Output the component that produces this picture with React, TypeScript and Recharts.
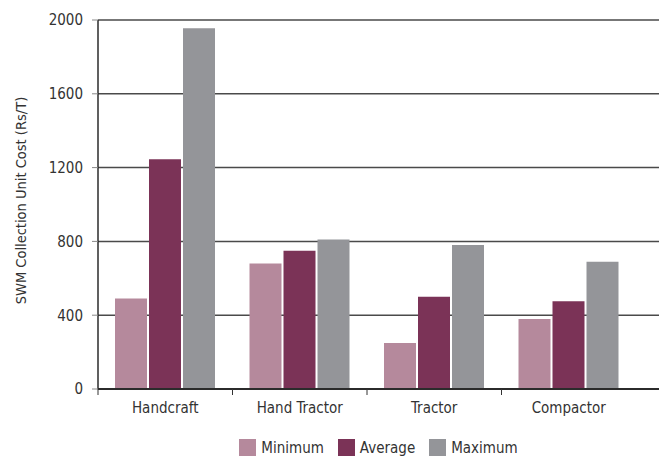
import React from "react";
import { BarChart, Bar, XAxis, YAxis, CartesianGrid, Legend, Label } from "recharts";

const categories = ["Handcraft", "Hand Tractor", "Tractor", "Compactor"];
const minimumValues = [490, 680, 250, 380];
const averageValues = [1245, 750, 500, 475];
const maximumValues = [1955, 810, 780, 690];
const yTicks = [0, 400, 800, 1200, 1600, 2000];
const seriesNames = ["Minimum", "Average", "Maximum"];
const seriesColors = ["#b5899c", "#7b3357", "#949599"];

const data = categories.map((c, i) => ({
  name: c,
  Minimum: minimumValues[i],
  Average: averageValues[i],
  Maximum: maximumValues[i],
}));

const FONT = "'Liberation Sans Narrow', 'DejaVu Sans Condensed', 'Roboto', sans-serif";
const TEXT = "#333333";
const HALF_BAND = 67.25;

if (typeof document !== "undefined") {
  document.body.style.margin = "0";
}

const XTick = (props: any) => {
  const { x, y, payload } = props;
  return (
    <g>
      <line x1={x - HALF_BAND} y1={y - 8} x2={x - HALF_BAND} y2={y - 2} stroke="#333" strokeWidth={1} />
      <text x={x} y={y + 16} textAnchor="middle" fill={TEXT} fontFamily={FONT} fontSize={15}>
        {payload.value}
      </text>
    </g>
  );
};

const LegendContent = () => (
  <div
    style={{
      height: 37,
      boxSizing: "border-box",
      paddingTop: 20,
      display: "flex",
      justifyContent: "center",
      paddingLeft: 112,
      fontFamily: FONT,
      fontSize: 15,
      color: TEXT,
      overflow: "hidden",
    }}
  >
    {seriesNames.map((n, i) => (
      <div key={n} style={{ display: "flex", alignItems: "center", marginRight: 14, height: 17 }}>
        <span style={{ display: "inline-block", width: 17, height: 17, background: seriesColors[i], marginRight: 5 }} />
        <span>{n}</span>
      </div>
    ))}
  </div>
);

export default function App() {
  return (
    <BarChart
      width={659}
      height={456}
      data={data}
      margin={{ top: 20, right: 0, left: 0, bottom: 0 }}
      barSize={32}
      barGap={2}
    >
      <CartesianGrid vertical={false} stroke="#4a4a4a" strokeWidth={1.5} />
      <XAxis
        dataKey="name"
        height={30}
        padding={{ left: 0, right: 23 }}
        axisLine={{ stroke: "#2b2b2b", strokeWidth: 2 }}
        tickLine={false}
        tick={<XTick />}
        tickSize={6}
        tickMargin={2}
        interval={0}
      />
      <YAxis
        width={98}
        domain={[0, 2000]}
        ticks={yTicks}
        interval={0}
        axisLine={{ stroke: "#2b2b2b", strokeWidth: 1.5 }}
        tickLine={{ stroke: "#888", strokeWidth: 1 }}
        tickSize={6}
        tickMargin={9}
        tick={{ fill: TEXT, fontFamily: FONT, fontSize: 15 }}
      >
        <Label
          content={(p: any) => {
            const vb = p.viewBox || { y: 20, height: 369 };
            const cy = vb.y + vb.height / 2 - 4;
            return (
              <text
                x={21}
                y={cy}
                transform={`rotate(-90, 21, ${cy})`}
                textAnchor="middle"
                dominantBaseline="central"
                fill={TEXT}
                fontFamily={FONT}
                fontSize={14.5}
              >
                SWM Collection Unit Cost (Rs/T)
              </text>
            );
          }}
        />
      </YAxis>
      <Legend verticalAlign="bottom" content={<LegendContent />} wrapperStyle={{ margin: 0, padding: 0 }} />
      {seriesNames.map((n, i) => (
        <Bar key={n} dataKey={n} fill={seriesColors[i]} isAnimationActive={false} />
      ))}
    </BarChart>
  );
}
